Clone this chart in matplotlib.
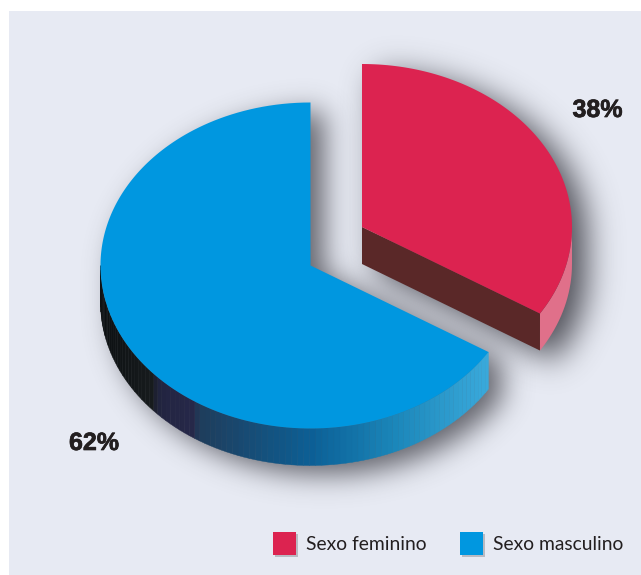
import numpy as np
import matplotlib
matplotlib.use('Agg')
import matplotlib.pyplot as plt
from matplotlib.colors import LinearSegmentedColormap, to_rgb
from matplotlib.patches import Polygon, Rectangle
from matplotlib.path import Path
import matplotlib.patheffects as pe

# chart values
categories = ['Sexo feminino', 'Sexo masculino']
shares = [38, 62]
share_labels = ['38%', '62%']

W, H = 641, 575
RX, RY = 210, 163
DEPTH = 37
TILT = 1.7  # how far the 3d view pushes the slice edges apart

PANEL = '#e7eaf3'
RED = '#dc2350'
RED_SIDE = '#e0708a'
RED_CUT = '#5a2828'
BLUE = '#0097e0'
INK = '#231f20'

blue_side = LinearSegmentedColormap.from_list('blue_side', [
    (0.00, '#0c1012'), (0.13, '#171b1d'), (0.15, '#222440'), (0.24, '#26284a'),
    (0.25, '#1f3c5a'), (0.55, '#0c6097'), (0.75, '#1a85b8'), (1.00, '#3aaadc')])


def view_angle(theta):
    # slice angle (radians, clockwise from 12 o'clock) seen through the tilted view
    return np.unwrap(np.arctan2(TILT * np.sin(theta), np.cos(theta)))


def rim(cx, cy, t):
    return cx + RX * np.sin(t), cy - RY * np.cos(t)


def top_face(cx, cy, theta_start, theta_end):
    t = view_angle(np.linspace(theta_start, theta_end, 200))
    x, y = rim(cx, cy, t)
    return np.column_stack([np.r_[cx, x], np.r_[cy, y]])


def side_strip(cx, cy, t):
    x, y = rim(cx, cy, t)
    return np.column_stack([np.r_[x, x[::-1]], np.r_[y, y[::-1] + DEPTH]])


def blur(mask, sigma):
    r = int(3 * sigma)
    kernel = np.exp(-0.5 * (np.arange(-r, r + 1) / sigma) ** 2)
    kernel /= kernel.sum()
    out = mask.copy()
    for i in range(out.shape[0]):
        out[i] = np.convolve(out[i], kernel, mode='same')
    for j in range(out.shape[1]):
        out[:, j] = np.convolve(out[:, j], kernel, mode='same')
    return out


def soft_shadow(ax, polys, dx, dy, sigma, alpha, colour='#34343c'):
    xx, yy = np.meshgrid(np.arange(W) + 0.5, np.arange(H) + 0.5)
    pts = np.column_stack([xx.ravel() - dx, yy.ravel() - dy])
    mask = np.zeros(H * W)
    for p in polys:
        mask[Path(p).contains_points(pts)] = 1
    mask = blur(mask.reshape(H, W), sigma)
    rgba = np.zeros((H, W, 4))
    rgba[..., :3] = to_rgb(colour)
    rgba[..., 3] = mask * alpha
    ax.imshow(rgba, extent=(0, W, H, 0), zorder=2, interpolation='bilinear', aspect='auto')


fig = plt.figure(figsize=(W / 100, H / 100), dpi=100, facecolor='white')
ax = fig.add_axes([0, 0, 1, 1])
ax.add_patch(Rectangle((9, 11), W, H, facecolor=PANEL, edgecolor='none', zorder=1))

# slice edges come straight from the shares
split = 2 * np.pi * shares[0] / sum(shares)
red_c = (362, 227)
blue_c = (310.5, 265.5)

red_top = top_face(*red_c, 0, split)
blue_top = top_face(*blue_c, split, 2 * np.pi)
t_split = view_angle(np.array([0, split]))[1]

red_t = np.linspace(np.pi / 2, t_split, 20)
blue_t = np.linspace(t_split, 1.5 * np.pi, 90)

corner = rim(*red_c, t_split)
red_cut = np.array([red_c, corner, (corner[0], corner[1] + DEPTH), (red_c[0], red_c[1] + DEPTH)])

# shadows sit under both slices
soft_shadow(ax, [red_top, red_cut, side_strip(*red_c, red_t)], 15, 10, 16, 0.85)
soft_shadow(ax, [blue_top, side_strip(*blue_c, blue_t)], 14, 9, 14, 0.75)

# masculine slice, the side is cut in thin strips to carry its shading
edge_x, _ = rim(*blue_c, blue_t)
x_low, x_high = edge_x.min(), edge_x.max()
for i in range(len(blue_t) - 1):
    strip = side_strip(*blue_c, blue_t[i:i + 2])
    shade = ((edge_x[i] + edge_x[i + 1]) / 2 - x_low) / (x_high - x_low)
    col = blue_side(shade)
    ax.add_patch(Polygon(strip, facecolor=col, edgecolor=col, linewidth=0.3, zorder=3))
ax.add_patch(Polygon(blue_top, facecolor=BLUE, edgecolor='none', zorder=4))

# feminine slice
ax.add_patch(Polygon(side_strip(*red_c, red_t), facecolor=RED_SIDE, edgecolor='none', zorder=3))
ax.add_patch(Polygon(red_cut, facecolor=RED_CUT, edgecolor='none', zorder=3))
ax.add_patch(Polygon(red_top, facecolor=RED, edgecolor='none', zorder=4))

heavy = [pe.withStroke(linewidth=0.5, foreground=INK)]
ax.text(597.5, 110, share_labels[0], fontsize=18, fontweight='bold', family='Liberation Sans',
        color=INK, ha='center', va='center', zorder=6, path_effects=heavy)
ax.text(94, 443, share_labels[1], fontsize=18, fontweight='bold', family='Liberation Sans',
        color=INK, ha='center', va='center', zorder=6, path_effects=heavy)

# legend
legend_x = [273, 460]
for x0, name, col in zip(legend_x, categories, [RED, BLUE]):
    ax.add_patch(Rectangle((x0 + 1.5, 533.5), 23, 23, facecolor='#9a9aa2', alpha=0.6,
                           edgecolor='none', zorder=4))
    ax.add_patch(Rectangle((x0, 532), 23, 23, facecolor=col, edgecolor='none', zorder=5))
    ax.text(x0 + 33, 544, name, fontsize=13.9, family='Lato', color=INK,
            ha='left', va='center', zorder=6)

ax.set_xlim(0, W)
ax.set_ylim(H, 0)
ax.axis('off')
fig.savefig('out.png', dpi=100, facecolor='white')
